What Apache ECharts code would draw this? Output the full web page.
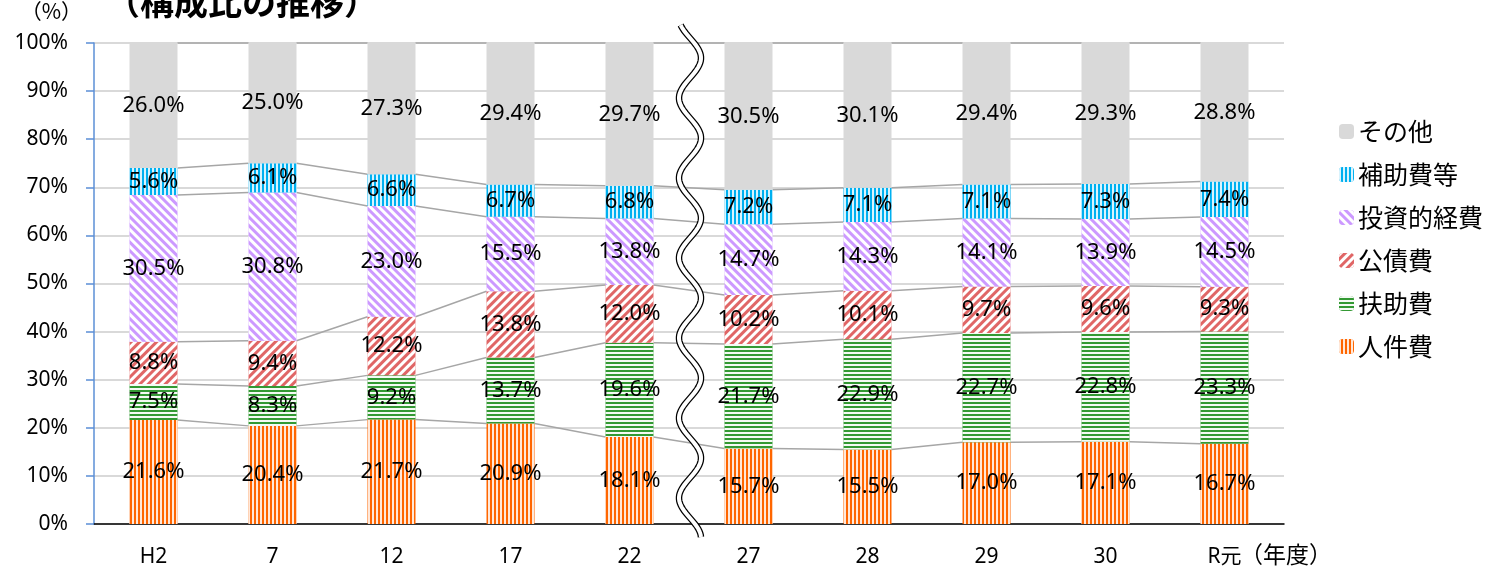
<!DOCTYPE html>
<html>
<head>
<meta charset="utf-8">
<script src="https://cdn.jsdelivr.net/npm/echarts@6/dist/echarts.min.js"></script>
<style>
  html, body { margin: 0; padding: 0; background: #fff; }
  #chart { width: 1502px; height: 571px; }
</style>
</head>
<body>
<div id="chart"></div>
<script>
// 年度
const years = ['H2', '7', '12', '17', '22', '27', '28', '29', '30', 'R元'];

// 構成比 (%)
const jinkenhi   = [21.6, 20.4, 21.7, 20.9, 18.1, 15.7, 15.5, 17.0, 17.1, 16.7];
const fujohi     = [7.5, 8.3, 9.2, 13.7, 19.6, 21.7, 22.9, 22.7, 22.8, 23.3];
const kosaihi    = [8.8, 9.4, 12.2, 13.8, 12.0, 10.2, 10.1, 9.7, 9.6, 9.3];
const toshiteki  = [30.5, 30.8, 23.0, 15.5, 13.8, 14.7, 14.3, 14.1, 13.9, 14.5];
const hojohi     = [5.6, 6.1, 6.6, 6.7, 6.8, 7.2, 7.1, 7.1, 7.3, 7.4];
const sonota     = [26.0, 25.0, 27.3, 29.4, 29.7, 30.5, 30.1, 29.4, 29.3, 28.8];

const yTicks = [0, 10, 20, 30, 40, 50, 60, 70, 80, 90, 100];

const BAR_W = 48;
const FONT = "'Noto Sans', 'Noto Sans CJK JP', sans-serif";
const JP = "'Noto Sans CJK JP', sans-serif";

const seriesDefs = [
  { name: '人件費', data: jinkenhi, color: '#ff6600',
    decal: { symbol: 'rect', symbolSize: 1, color: 'rgba(255,255,255,0.85)', dashArrayX: [2, 2], dashArrayY: [40, 0], rotation: 0 } },
  { name: '扶助費', data: fujohi, color: '#339933',
    decal: { symbol: 'rect', symbolSize: 1, color: 'rgba(255,255,255,0.95)', dashArrayX: [40, 0], dashArrayY: [2, 2], rotation: 0 } },
  { name: '公債費', data: kosaihi, color: '#e06666',
    decal: { symbol: 'rect', symbolSize: 1, color: '#ffffff', dashArrayX: [2.5, 2.5], dashArrayY: [40, 0], rotation: Math.PI / 4 } },
  { name: '投資的経費', data: toshiteki, color: '#cc99ff',
    decal: { symbol: 'rect', symbolSize: 1, color: '#ffffff', dashArrayX: [2.5, 2.5], dashArrayY: [40, 0], rotation: -Math.PI / 4 } },
  { name: '補助費等', data: hojohi, color: '#00b0f0',
    decal: { symbol: 'rect', symbolSize: 1, color: 'rgba(255,255,255,0.85)', dashArrayX: [2, 2], dashArrayY: [40, 0], rotation: 0 } },
  { name: 'その他', data: sonota, color: '#d9d9d9', decal: null }
];

// cumulative tops for the series lines
const cumulative = [];
let running = years.map(() => 0);
seriesDefs.forEach((s) => {
  running = running.map((v, i) => +(v + s.data[i]).toFixed(1));
  cumulative.push(running.slice());
});

const barSeries = seriesDefs.map((s) => ({
  name: s.name,
  type: 'bar',
  stack: 'total',
  barWidth: BAR_W,
  z: 2,
  itemStyle: { color: s.color, decal: s.decal },
  label: {
    show: true,
    position: 'inside',
    color: '#000',
    fontFamily: FONT,
    fontSize: 22,
    formatter: (p) => p.value.toFixed(1) + '%'
  },
  data: s.data
}));

const connectorSeries = {
  type: 'custom',
  silent: true,
  z: 1,
  data: years.slice(0, -1).map((y, i) => [i, 0]),
  renderItem: (params, api) => {
    const i = api.value(0);
    const children = cumulative.map((cum) => {
      const p1 = api.coord([i, cum[i]]);
      const p2 = api.coord([i + 1, cum[i + 1]]);
      return {
        type: 'line',
        shape: { x1: p1[0] + BAR_W / 2, y1: p1[1], x2: p2[0] - BAR_W / 2, y2: p2[1] },
        style: { stroke: '#a6a6a6', lineWidth: 1.5 }
      };
    });
    return { type: 'group', children: children };
  }
};

// wavy break mark between 22 and 27
const wavePts = [];
for (let y = 25; y <= 538; y += 2) {
  wavePts.push([690 + 11 * Math.cos(2 * Math.PI * (y - 58) / 80), y]);
}

const chart = echarts.init(document.getElementById('chart'));
chart.setOption({
  animation: false,
  title: {
    text: '（構成比の推移）',
    left: 101,
    top: -20,
    textStyle: { fontFamily: JP, fontSize: 34, fontWeight: 'bold', color: '#000' }
  },
  legend: {
    orient: 'vertical',
    left: 1334,
    top: 114,
    itemWidth: 15,
    itemHeight: 15,
    itemGap: 18,
    data: ['その他', '補助費等', '投資的経費', '公債費', '扶助費', '人件費'],
    textStyle: { fontFamily: JP, fontSize: 25, color: '#000', padding: [0, 0, 0, -1] }
  },
  grid: { left: 94, right: 218, top: 43, bottom: 47 },
  xAxis: {
    type: 'category',
    data: years,
    axisLine: { lineStyle: { color: '#000', width: 1.5 } },
    axisTick: { show: false },
    axisLabel: { fontFamily: FONT, fontSize: 21, color: '#000', margin: 23 }
  },
  yAxis: {
    type: 'value',
    min: yTicks[0],
    max: yTicks[yTicks.length - 1],
    interval: 10,
    name: '（%）',
    nameLocation: 'end',
    nameGap: 21,
    nameTextStyle: { fontFamily: JP, fontSize: 21, color: '#000', align: 'right', padding: [0, 12, 0, 0] },
    axisLine: { show: true, lineStyle: { color: '#5b8fd6', width: 1.5 } },
    axisTick: { show: true, length: 8, lineStyle: { color: '#5b8fd6', width: 1.5 } },
    axisLabel: { fontFamily: FONT, fontSize: 21, color: '#000', margin: 26, formatter: '{value}%' },
    splitLine: { lineStyle: { color: '#d9d9d9', width: 2 } }
  },
  graphic: [
    {
      type: 'polyline', z: 100, silent: true,
      shape: { points: wavePts },
      style: { stroke: '#000', lineWidth: 6.5, fill: null }
    },
    {
      type: 'polyline', z: 101, silent: true,
      shape: { points: wavePts },
      style: { stroke: '#fff', lineWidth: 4, fill: null }
    },
    {
      type: 'text', z: 100, left: 1240, top: 543,
      style: { text: '（年度）', fontFamily: JP, fontSize: 23, fill: '#000' }
    }
  ],
  series: barSeries.concat([connectorSeries])
});
</script>
</body>
</html>
